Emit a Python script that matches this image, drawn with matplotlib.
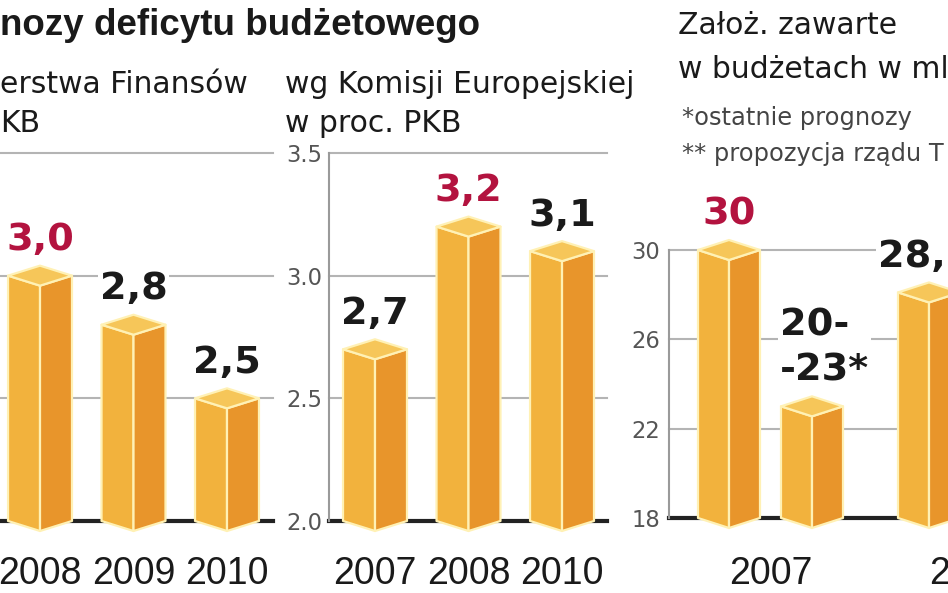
import matplotlib.pyplot as plt
from matplotlib.patches import Polygon

plt.rcParams['font.family'] = ['DejaVu Sans']

W, H = 948, 593

# wg Ministerstwa Finansow, w proc. PKB
mf_years = ["2008", "2009", "2010"]
mf_values = [3.0, 2.8, 2.5]
mf_labels = ["3,0", "2,8", "2,5"]
mf_red = [1, 0, 0]

# wg Komisji Europejskiej, w proc. PKB
ke_years = ["2007", "2008", "2010"]
ke_values = [2.7, 3.2, 3.1]
ke_labels = ["2,7", "3,2", "3,1"]
ke_red = [0, 1, 0]
pkb_ticks = [2.0, 2.5, 3.0, 3.5]

# zalozenia w budzetach, mld zl
bud_years = ["2007"]
bud_group = [0, 0, 1]
bud_side = [-1, 1, -1]
bud_values = [30, 23, 28.1]
bud_labels = ["30", "20-\n-23*", "28,"]
bud_red = [1, 0, 0]
bud_ticks = [18, 22, 26, 30]

RED = "#b3133f"
DARK = "#1a1a1a"
LEFT_C, RIGHT_C, TOP_C, EDGE_C = "#f2b23d", "#e8952b", "#f6c659", "#fff1b5"
GRID_C = "#b4b4b4"

fig = plt.figure(figsize=(W / 100, H / 100), dpi=100)


def axes_px(left, top, right, bottom):
    return fig.add_axes([left / W, 1 - bottom / H, (right - left) / W, (bottom - top) / H])


def depth(ax, px):
    y0, y1 = ax.get_ylim()
    return px * (y1 - y0) / (ax.get_position().height * H)


def bar3d(ax, x, v, hw):
    base = ax.get_ylim()[0]
    d = depth(ax, 10)
    left = [(x - hw, base), (x, base - d), (x, v - d), (x - hw, v)]
    right = [(x, base - d), (x + hw, base), (x + hw, v), (x, v - d)]
    top = [(x - hw, v), (x, v + d), (x + hw, v), (x, v - d)]
    for pts, c in ((left, LEFT_C), (right, RIGHT_C), (top, TOP_C)):
        ax.add_patch(Polygon(pts, closed=True, fc=c, ec=EDGE_C, lw=1.6,
                             zorder=3, clip_on=False, joinstyle="round"))


def value_label(ax, x, v, text, red, dx=0, ha="center"):
    ax.annotate(text, xy=(x, v), xytext=(dx, 12.5), textcoords="offset points",
                ha=ha, va="bottom", fontsize=27.5, fontweight="bold",
                color=RED if red else DARK, linespacing=1.33,
                bbox=dict(fc="white", ec="none", pad=1.5), zorder=5,
                annotation_clip=False)


def setup(ax, ticks, xlim, show_spine, ypad):
    ax.set_ylim(ticks[0], ticks[-1])
    ax.set_xlim(*xlim)
    for s in ax.spines.values():
        s.set_visible(False)
    if show_spine:
        ax.spines["left"].set_visible(True)
        ax.spines["left"].set_color("#9a9a9a")
        ax.spines["left"].set_linewidth(1.5)
        ax.set_yticks(ticks)
        ax.set_yticklabels([f"{t:.1f}" if isinstance(t, float) else str(t) for t in ticks],
                           fontsize=16.3, color="#555555")
        ax.tick_params(axis="y", length=0, pad=ypad)
    else:
        ax.set_yticks([])
    for t in ticks[1:]:
        ax.axhline(t, color=GRID_C, lw=1.5, zorder=1, clip_on=False)
    ax.axhline(ticks[0], color="#222222", lw=3, zorder=1, clip_on=False)
    ax.tick_params(axis="x", length=0)
    ax.patch.set_alpha(0)


# panel 1
ax1 = axes_px(0, 153, 273, 521)
setup(ax1, pkb_ticks, (-0.428, 2.492), False, 0)
for i, v in enumerate(mf_values):
    bar3d(ax1, i, v, 0.342)
    value_label(ax1, i, v, mf_labels[i], mf_red[i])
ax1.set_xticks(range(len(mf_years)))
ax1.set_xticklabels(mf_years, family="Liberation Sans", fontsize=27, color=DARK)
ax1.tick_params(axis="x", pad=25)

# panel 2
ax2 = axes_px(329, 153, 607, 521)
setup(ax2, pkb_ticks, (-0.492, 2.481), True, 4.5)
for i, v in enumerate(ke_values):
    bar3d(ax2, i, v, 0.342)
    value_label(ax2, i, v, ke_labels[i], ke_red[i])
ax2.set_xticks(range(len(ke_years)))
ax2.set_xticklabels(ke_years, family="Liberation Sans", fontsize=27, color=DARK)
ax2.tick_params(axis="x", pad=25)

# panel 3
ax3 = axes_px(669, 250, 948, 518)
setup(ax3, bud_ticks, (-0.5075, 0.8875), True, 6.5)
for g, s, v, lab, r in zip(bud_group, bud_side, bud_values, bud_labels, bud_red):
    x = g + s * 0.2075
    bar3d(ax3, x, v, 0.155)
    if "\n" in lab:
        value_label(ax3, x, v, lab, r, dx=-23, ha="left")
    elif lab.endswith(","):
        value_label(ax3, x, v, lab, r, dx=-36.5, ha="left")
    else:
        value_label(ax3, x, v, lab, r)
ax3.set_xticks(range(len(bud_years)))
ax3.set_xticklabels(bud_years, family="Liberation Sans", fontsize=27, color=DARK)
ax3.tick_params(axis="x", pad=27)
ax3.annotate("2", xy=(1, 0), xycoords=("data", "axes fraction"), xytext=(-30, -27),
             textcoords="offset points", ha="left", va="top",
             family="Liberation Sans", fontsize=27, color=DARK, annotation_clip=False)

# headers
def ftext(x, y, s, **kw):
    fig.text(x / W, 1 - y / H, s, va="baseline", color=DARK, **kw)


ftext(0, 35, "nozy deficytu budżetowego", family="Liberation Sans", fontweight="bold", fontsize=26.5)
ftext(0, 93, "erstwa Finansów", fontsize=21.5)
ftext(0, 132, "KB", fontsize=21.5)
ftext(285, 93, "wg Komisji Europejskiej", fontsize=21.5)
ftext(285, 132, "w proc. PKB", fontsize=21.5)
ftext(678, 34, "Założ. zawarte", fontsize=21.5)
ftext(678, 78, "w budżetach w ml", fontsize=21.5)
fig.text(682 / W, 1 - 125 / H, "*ostatnie prognozy", va="baseline", fontsize=17.4, color="#444444")
fig.text(682 / W, 1 - 161 / H, "** propozycja rządu T", va="baseline", fontsize=17.4, color="#444444")

fig.savefig("out.png", dpi=100)
